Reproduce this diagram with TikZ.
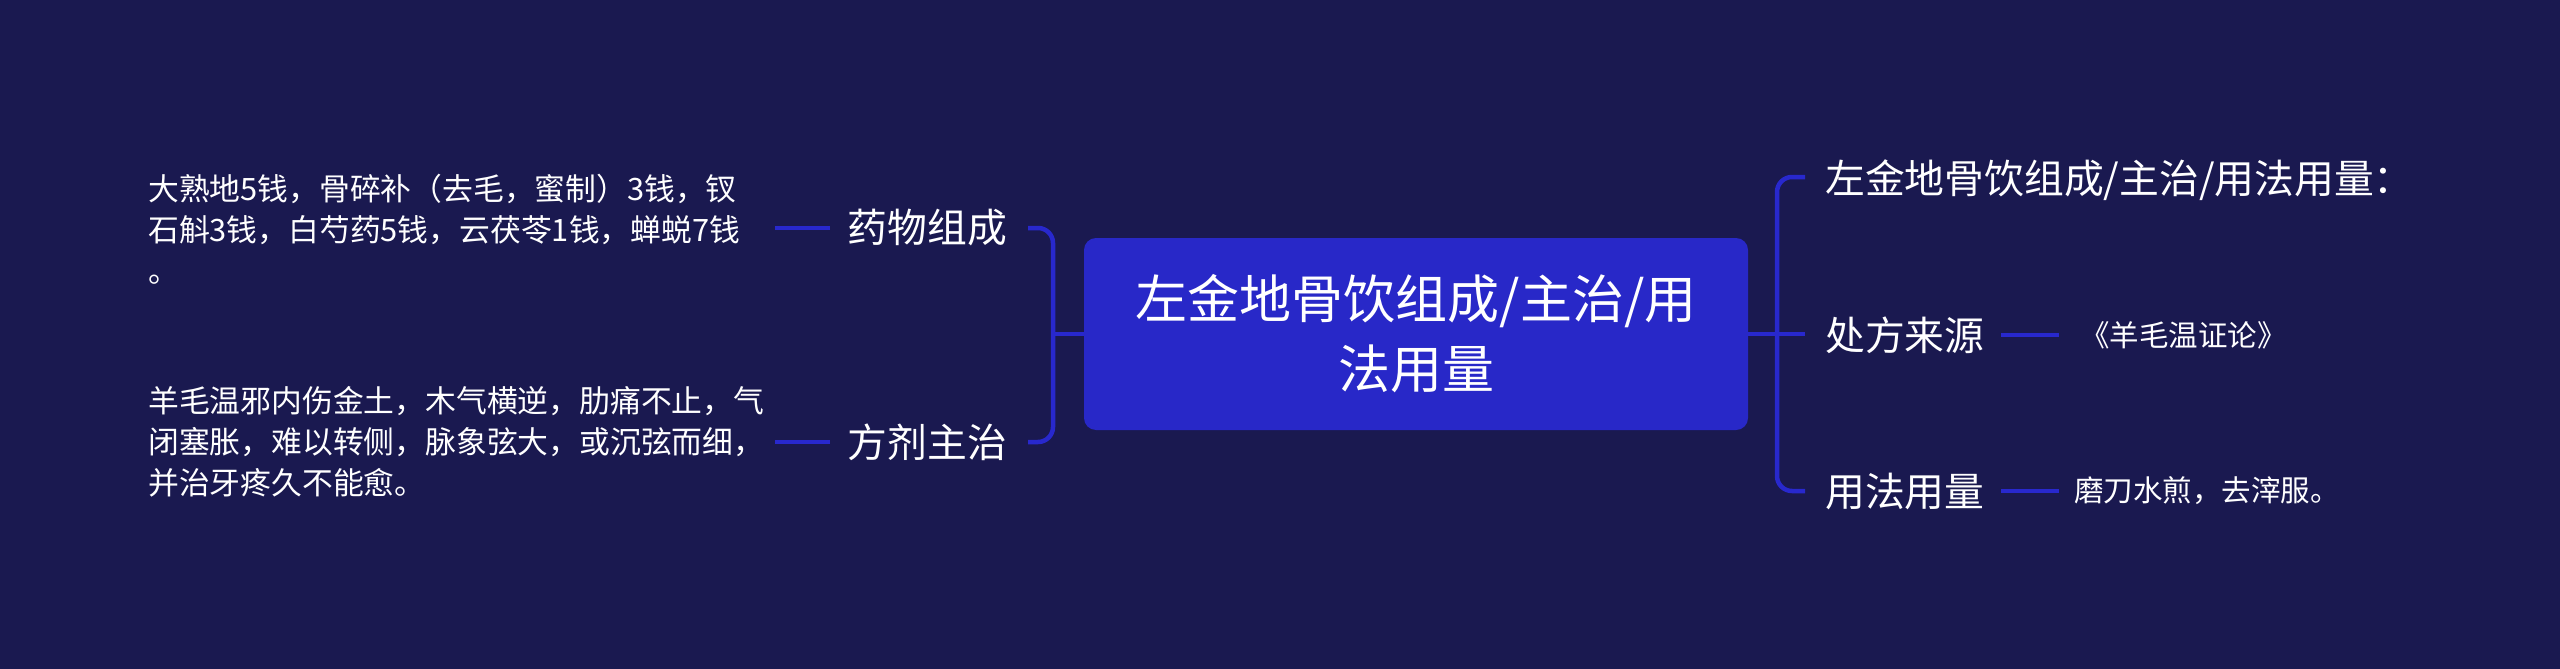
\documentclass[tikz,border=0pt]{standalone}
\usepackage{fontspec}
\setmainfont{Noto Sans CJK SC}
\definecolor{bgc}{RGB}{26,25,80}
\definecolor{boxc}{RGB}{40,40,200}
\definecolor{linec}{RGB}{40,40,205}
\begin{document}
\begin{tikzpicture}[x=1pt,y=-1pt,
  conn/.style={draw=linec,line width=4.5pt},
  rootbox/.style={rectangle,rounded corners=12pt,fill=boxc,text=white,minimum width=664pt,minimum height=192pt,align=center,inner sep=0pt,font=\fontsize{52}{70}\selectfont},
  subtopic/.style={text=white,inner sep=0pt,anchor=west,font=\fontsize{39.8}{46}\selectfont},
  leftleaf/.style={text=white,inner sep=0pt,anchor=west,align=left,font=\fontsize{30.8}{41}\selectfont},
  rightleaf/.style={text=white,inner sep=0pt,anchor=west,font=\fontsize{29.5}{36}\selectfont}]
\fill[bgc] (0,0) rectangle (2560,669);
\useasboundingbox (0,0) rectangle (2560,669);

\node[rootbox] (root) at (1416,334) {左金地骨饮组成/主治/用\\法用量};

% left side
\node[subtopic,anchor=east] (ym) at (1007,228) {药物组成};
\node[subtopic,anchor=east] (fj) at (1007,442) {方剂主治};
\node[leftleaf] (ymt) at (148,229) {大熟地5钱，骨碎补（去毛，蜜制）3钱，钗\\石斛3钱，白芍药5钱，云茯苓1钱，蝉蜕7钱\\。};
\node[leftleaf] (fjt) at (148,442) {羊毛温邪内伤金土，木气横逆，肋痛不止，气\\闭塞胀，难以转侧，脉象弦大，或沉弦而细，\\并治牙疼久不能愈。};

\coordinate (lj) at (1053,334);
\coordinate (lt) at (1028,228);
\coordinate (lb) at (1028,442);
\draw[conn] (root.west) -- (lj);
\draw[conn,rounded corners=15pt] (lt) -| (lj) |- (lb);

\coordinate (d1a) at (775,228);
\coordinate (d1b) at (830,228);
\coordinate (d2a) at (775,442);
\coordinate (d2b) at (830,442);
\draw[conn,line width=4pt] (d1a) -- (d1b);
\draw[conn,line width=4pt] (d2a) -- (d2b);

% right side
\node[subtopic] (t1) at (1825,180) {左金地骨饮组成/主治/用法用量：};
\node[subtopic] (t2) at (1825,335) {处方来源};
\node[subtopic] (t3) at (1825,491) {用法用量};
\node[rightleaf] (s2) at (2080,335) {《羊毛温证论》};
\node[rightleaf] (s3) at (2074,491) {磨刀水煎，去滓服。};

\coordinate (rj) at (1777,334);
\coordinate (rm) at (1805,334);
\coordinate (rt) at (1805,177);
\coordinate (rb) at (1805,491);
\draw[conn] (root.east) -- (rm);
\draw[conn,rounded corners=15pt] (rt) -| (rj) |- (rb);

\coordinate (e2a) at (2001,335);
\coordinate (e2b) at (2059,335);
\coordinate (e3a) at (2001,491);
\coordinate (e3b) at (2059,491);
\draw[conn,line width=4pt] (e2a) -- (e2b);
\draw[conn,line width=4pt] (e3a) -- (e3b);
\end{tikzpicture}
\end{document}
